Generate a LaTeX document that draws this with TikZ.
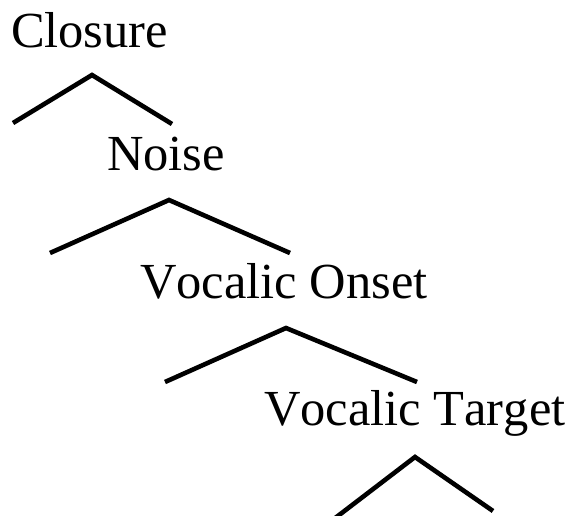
\documentclass[tikz,border=0pt]{standalone}
\usepackage{fontspec}
\setmainfont[Kerning=Off]{Liberation Serif}
\begin{document}
\begin{tikzpicture}[x=1pt,y=-1pt,
  label/.style={anchor=base west,inner sep=0pt,outer sep=0pt,font=\fontsize{50.5}{56}\selectfont},
  branch/.style={line width=4.6pt,line join=miter,line cap=butt}]
\useasboundingbox (0,0) rectangle (570,515);

% stage labels
\node[label] (closure) at (11,47) {Closure};
\node[label] (noise)   at (107,170) {Noise};
\node[label] (onset)   at (140,298) {Vocalic Onset};
\node[label] (target)  at (264,425) {Vocalic Target};

% branch points under each label
\coordinate (a1) at (92,75);   \coordinate (l1) at (13,123);  \coordinate (r1) at (172,124);
\coordinate (a2) at (169,200); \coordinate (l2) at (50,253);  \coordinate (r2) at (290,253);
\coordinate (a3) at (286,328); \coordinate (l3) at (165,382); \coordinate (r3) at (417,382);
\coordinate (a4) at (415,457); \coordinate (l4) at (330,522); \coordinate (r4) at (493,511);

\draw[branch] (l1) -- (a1) -- (r1);
\draw[branch] (l2) -- (a2) -- (r2);
\draw[branch] (l3) -- (a3) -- (r3);
\begin{scope}
\clip (0,0) rectangle (570,515);
\draw[branch] (l4) -- (a4) -- (r4);
\end{scope}
\end{tikzpicture}
\end{document}
